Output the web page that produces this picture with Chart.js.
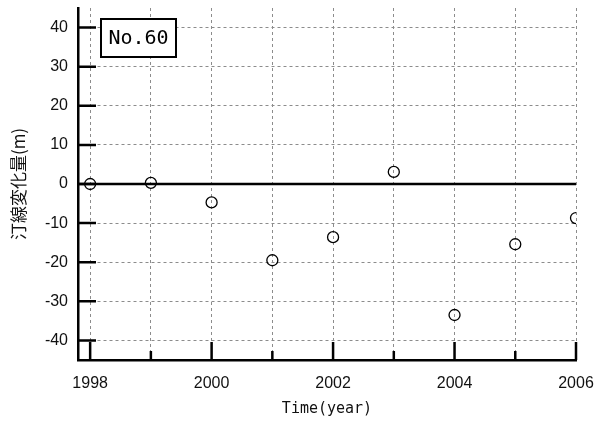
<!DOCTYPE html>
<html lang="ja">
<head>
<meta charset="UTF-8">
<title>汀線変化量 No.60</title>
<script src="https://cdn.jsdelivr.net/npm/chart.js"></script>
<style>
  html, body { margin: 0; padding: 0; background: #fff; }
  #wrap { width: 608px; height: 423px; }
</style>
</head>
<body>
<div id="wrap"><canvas id="chartCanvas"></canvas></div>
<script>
// 測線 No.60 の汀線変化量 (1998年基準)
const years = [1998, 1999, 2000, 2001, 2002, 2003, 2004, 2005, 2006];
const shoreChange = [0, 0.3, -4.7, -19.5, -13.6, 3.1, -33.5, -15.4, -8.7];
const yTicks = [-40, -30, -20, -10, 0, 10, 20, 30, 40];
const stationLabel = 'No.60';
const xRange = [1997.8, 2006];
const yRange = [-45, 45];

const points = years.map((y, i) => ({ x: y, y: shoreChange[i] }));
const baseLine = [{ x: xRange[0], y: 0 }, { x: xRange[1], y: 0 }];

// 目盛りを軸の内側に描く
const innerTicks = {
    id: 'innerTicks',
    beforeDatasetsDraw(chart) {
        const { ctx, chartArea, scales } = chart;
        ctx.save();
        ctx.strokeStyle = '#000';
        ctx.lineWidth = 2.5;
        ctx.beginPath();
        scales.x.ticks.forEach(t => {
            const px = scales.x.getPixelForValue(t.value);
            const len = t.value % 2 === 0 ? 18 : 9;
            ctx.moveTo(px, chartArea.bottom);
            ctx.lineTo(px, chartArea.bottom - len);
        });
        scales.y.ticks.forEach(t => {
            const py = scales.y.getPixelForValue(t.value);
            ctx.moveTo(chartArea.left, py);
            ctx.lineTo(chartArea.left + 18, py);
        });
        ctx.stroke();
        ctx.restore();
    },
    afterDraw(chart) {
        // 測線番号の枠
        const { ctx, chartArea } = chart;
        const bx = chartArea.left + 23, by = chartArea.top + 11, bw = 75, bh = 38;
        ctx.save();
        ctx.fillStyle = '#fff';
        ctx.fillRect(bx, by, bw, bh);
        ctx.strokeStyle = '#000';
        ctx.lineWidth = 2;
        ctx.strokeRect(bx, by, bw, bh);
        ctx.fillStyle = '#000';
        ctx.font = '20px "DejaVu Sans Mono"';
        ctx.textAlign = 'center';
        ctx.textBaseline = 'middle';
        ctx.fillText(stationLabel, bx + bw / 2, by + bh / 2 + 1);
        ctx.restore();
    }
};

const gridStyle = { color: '#8c8c8c', lineWidth: 1, drawTicks: false };
const borderStyle = { color: '#000', width: 2.5, dash: [3, 3] };

const ctx = document.getElementById('chartCanvas').getContext('2d');
new Chart(ctx, {
    type: 'scatter',
    data: {
        datasets: [{
            data: baseLine,
            showLine: true,
            borderColor: '#000',
            borderWidth: 2.5,
            pointRadius: 0,
            order: 2
        }, {
            data: points,
            pointStyle: 'circle',
            pointRadius: 5.5,
            pointHoverRadius: 5.5,
            borderColor: '#000',
            borderWidth: 1.3,
            backgroundColor: 'rgba(0,0,0,0)',
            order: 1
        }]
    },
    options: {
        responsive: true,
        maintainAspectRatio: false,
        animation: false,
        layout: { padding: { top: 8, right: 32, left: 0, bottom: 0 } },
        plugins: {
            legend: { display: false },
            tooltip: { enabled: false }
        },
        scales: {
            x: {
                type: 'linear',
                min: xRange[0],
                max: xRange[1],
                afterBuildTicks: s => { s.ticks = years.map(v => ({ value: v })); },
                afterFit: s => { s.height = 63; s.paddingLeft = 0; s.paddingRight = 0; },
                grid: gridStyle,
                border: borderStyle,
                ticks: {
                    padding: 14,
                    color: '#111',
                    font: { family: '"Liberation Sans", Arial', size: 16 },
                    callback: v => (v % 2 === 0 ? String(v) : '')
                },
                title: {
                    display: true,
                    text: 'Time(year)',
                    color: '#111',
                    font: { family: '"DejaVu Sans Mono"', size: 15 },
                    padding: { top: 0, bottom: 5 }
                }
            },
            y: {
                type: 'linear',
                min: yRange[0],
                max: yRange[1],
                afterBuildTicks: s => { s.ticks = yTicks.map(v => ({ value: v })); },
                afterFit: s => { s.width = 78; s.paddingTop = 0; s.paddingBottom = 0; },
                grid: gridStyle,
                border: borderStyle,
                ticks: {
                    padding: 10,
                    color: '#111',
                    font: { family: '"Liberation Sans", Arial', size: 16 }
                },
                title: {
                    display: true,
                    text: '汀線変化量(m)',
                    color: '#111',
                    font: { family: '"Noto Sans CJK JP"', size: 17 },
                    padding: { top: 8, bottom: 0 }
                }
            }
        }
    },
    plugins: [innerTicks]
});
</script>
</body>
</html>
